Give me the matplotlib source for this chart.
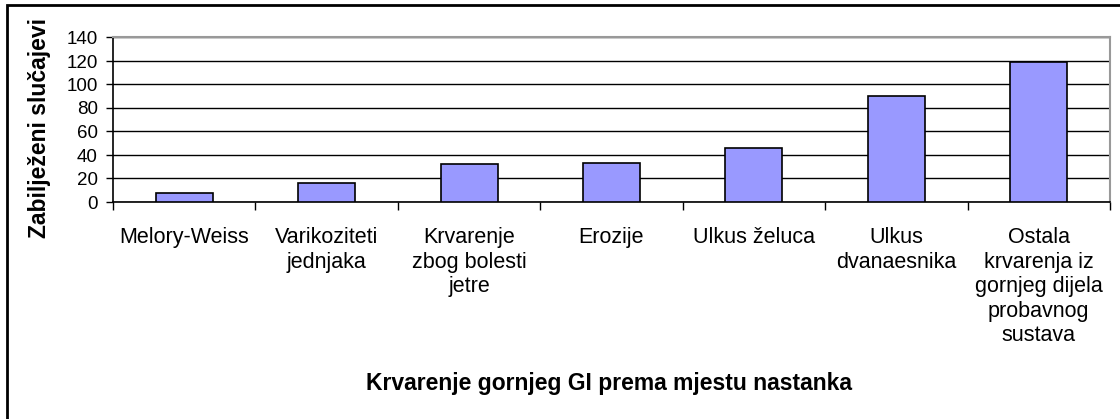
import numpy as np
import matplotlib
matplotlib.use("Agg")
import matplotlib.pyplot as plt
from matplotlib.patches import Rectangle

plt.rcParams['font.family'] = ['Liberation Sans', 'DejaVu Sans']

categories = ["Melory-Weiss", "Varikoziteti\njednjaka", "Krvarenje\nzbog bolesti\njetre",
              "Erozije", "Ulkus želuca", "Ulkus\ndvanaesnika",
              "Ostala\nkrvarenja iz\ngornjeg dijela\nprobavnog\nsustava"]
cases = [8, 16, 32, 33, 46, 90, 119]
yticks = [0, 20, 40, 60, 80, 100, 120, 140]

W, H = 1120, 419
fig = plt.figure(figsize=(W / 100, H / 100), dpi=100)
# plot area in pixels: x 113-1110, y 37.5-202
ax = fig.add_axes([113 / W, 1 - 202 / H, (1110 - 113) / W, (202 - 37.5) / H])

x = np.arange(len(cases))
ax.bar(x, cases, width=0.4, color='#9999FF', edgecolor='black', linewidth=1.2, zorder=3)

ax.set_xlim(-0.5, len(cases) - 0.5)
ax.set_ylim(0, 140)
ax.set_yticks(yticks)
ax.yaxis.grid(True, color='black', linewidth=1)
ax.set_axisbelow(True)

ax.set_xticks(x)
ax.set_xticklabels(categories, fontsize=15.5, linespacing=1.22, va='top')
ax.tick_params(axis='x', length=0, pad=18)
ax.set_xticks(np.arange(len(cases) + 1) - 0.5, minor=True)
ax.tick_params(axis='x', which='minor', length=6, width=1, color='black', direction='out')
ax.tick_params(axis='y', labelsize=13.5, length=5, width=1, direction='out', pad=6)

for s in ['left', 'bottom']:
    ax.spines[s].set_color('black')
    ax.spines[s].set_linewidth(1.2)
for s in ['top', 'right']:
    ax.spines[s].set_color('#999999')
    ax.spines[s].set_linewidth(1.5)

fig.text(609 / W, 1 - 383 / H, "Krvarenje gornjeg GI prema mjestu nastanka",
         ha='center', va='center', fontsize=16.5, fontweight='bold')
fig.text(40 / W, 1 - 127.5 / H, "Zabilježeni slučajevi", rotation=90,
         ha='center', va='center', fontsize=16.5, fontweight='bold')

fig.patches.append(Rectangle((7 / W, -0.1), 1.2, 1 - 5 / H + 0.1, transform=fig.transFigure,
                             fill=False, edgecolor='black', linewidth=2))

fig.savefig("out.png", dpi=100)
